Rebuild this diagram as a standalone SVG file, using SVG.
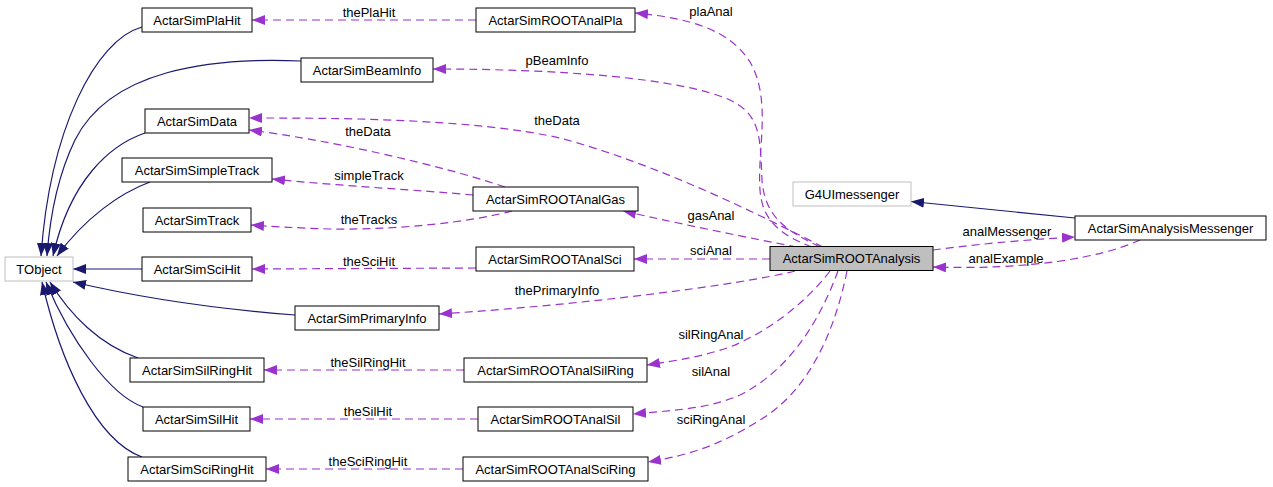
<svg xmlns="http://www.w3.org/2000/svg" width="1273" height="487" viewBox="0 0 1273 487">
<style>
.box{fill:#ffffff;stroke:#000000;stroke-width:1}
.grey{fill:#ffffff;stroke:#bfbfbf;stroke-width:1}
.hl{fill:#bfbfbf;stroke:#000000;stroke-width:1}
.t{font-family:"Liberation Sans",Helvetica,Arial,sans-serif;font-size:13px;fill:#000000;text-anchor:middle}
.inh{fill:none;stroke:#191970;stroke-width:1.2;marker-end:url(#an)}
.use{fill:none;stroke:#9a32cd;stroke-width:1.2;stroke-dasharray:8,5;marker-end:url(#ap)}
</style>
<defs>
<marker id="an" viewBox="0 0 13 10" refX="13" refY="5" markerWidth="13" markerHeight="10" orient="auto" markerUnits="userSpaceOnUse"><path d="M0,0 L13,5 L0,10 z" fill="#191970"/></marker>
<marker id="ap" viewBox="0 0 13 10" refX="13" refY="5" markerWidth="13" markerHeight="10" orient="auto" markerUnits="userSpaceOnUse"><path d="M0,0 L13,5 L0,10 z" fill="#9a32cd"/></marker>
</defs>
<rect width="1273" height="487" fill="#ffffff"/>
<g id="connectors">
<path class="inh" d="M142,27 C95,40 50,130 41,256"/>
<path class="inh" d="M301,61 C210,57 110,70 75,140 C58,175 50,215 47,256"/>
<path class="inh" d="M145,133 C110,145 70,180 53,256"/>
<path class="inh" d="M150,182 C120,193 85,218 57,256"/>
<path class="inh" d="M142,269 L73,269"/>
<path class="inh" d="M295,315 C230,310 150,300 73,282"/>
<path class="inh" d="M138,358 C100,345 70,315 50,282"/>
<path class="inh" d="M143,407 C110,395 70,340 46,282"/>
<path class="inh" d="M142,457 C95,440 60,360 42,282"/>
<path class="inh" d="M1075,218 L911,201.5"/>
<path class="use" d="M476,20 L252,20"/>
<path class="use" d="M812,247 C780,235 762,220 760,190 C757,150 772,100 750,62 C730,30 690,18 635,13"/>
<path class="use" d="M820,247 C790,232 765,220 762,180 C760,140 762,115 730,100 C680,78 560,69 433,69"/>
<path class="use" d="M823,247 C760,215 660,165 560,138 C470,118 330,118 249,118"/>
<path class="use" d="M505,187 C440,165 330,140 249,130"/>
<path class="use" d="M473,195 C420,190 340,186 272,179"/>
<path class="use" d="M512,211 C470,222 400,230 330,229 C300,228 280,227 251,225"/>
<path class="use" d="M797,247 C750,238 690,226 623,211"/>
<path class="use" d="M770,259 L634,259"/>
<path class="use" d="M476,268 L252,269"/>
<path class="use" d="M795,271 C740,285 580,305 439,314"/>
<path class="use" d="M933,250 C970,245 1020,240 1075,237"/>
<path class="use" d="M1140,240 C1100,258 1030,270 933,267"/>
<path class="use" d="M830,271 C800,310 760,335 730,347 C700,357 680,360 647,365"/>
<path class="use" d="M838,271 C820,320 790,370 740,395 C710,408 680,410 633,414"/>
<path class="use" d="M847,271 C835,330 810,390 760,420 C720,445 690,455 648,462"/>
<path class="use" d="M464,370 L264,370"/>
<path class="use" d="M478,419 L250,419"/>
<path class="use" d="M463,469 L266,469"/>
<text class="t" x="369" y="17">thePlaHit</text>
<text class="t" x="711" y="16">plaAnal</text>
<text class="t" x="557" y="65">pBeamInfo</text>
<text class="t" x="557" y="125">theData</text>
<text class="t" x="368" y="136">theData</text>
<text class="t" x="369" y="180">simpleTrack</text>
<text class="t" x="369" y="224">theTracks</text>
<text class="t" x="711" y="220">gasAnal</text>
<text class="t" x="711" y="255">sciAnal</text>
<text class="t" x="369" y="266">theSciHit</text>
<text class="t" x="557" y="295">thePrimaryInfo</text>
<text class="t" x="1007" y="236">analMessenger</text>
<text class="t" x="1006" y="263">analExample</text>
<text class="t" x="711" y="339">silRingAnal</text>
<text class="t" x="711" y="376">silAnal</text>
<text class="t" x="711" y="424">sciRingAnal</text>
<text class="t" x="368" y="367">theSilRingHit</text>
<text class="t" x="368" y="416">theSilHit</text>
<text class="t" x="368" y="466">theSciRingHit</text>
</g>
<g id="ActarSimPlaHit"><rect class="box" x="142" y="8" width="110" height="24"/><text class="t" x="197" y="24.5">ActarSimPlaHit</text></g>
<g id="ActarSimBeamInfo"><rect class="box" x="301" y="58" width="132" height="24"/><text class="t" x="367" y="74.5">ActarSimBeamInfo</text></g>
<g id="ActarSimData"><rect class="box" x="145" y="109" width="104" height="24"/><text class="t" x="197" y="125.5">ActarSimData</text></g>
<g id="ActarSimSimpleTrack"><rect class="box" x="122" y="158" width="150" height="24"/><text class="t" x="197" y="174.5">ActarSimSimpleTrack</text></g>
<g id="ActarSimTrack"><rect class="box" x="143" y="208" width="108" height="24"/><text class="t" x="197" y="224.5">ActarSimTrack</text></g>
<g id="TObject"><rect class="grey" x="5" y="257" width="68" height="24"/><text class="t" x="39" y="273.5">TObject</text></g>
<g id="ActarSimSciHit"><rect class="box" x="142" y="257" width="110" height="24"/><text class="t" x="197" y="273.5">ActarSimSciHit</text></g>
<g id="ActarSimPrimaryInfo"><rect class="box" x="295" y="306" width="144" height="24"/><text class="t" x="367" y="322.5">ActarSimPrimaryInfo</text></g>
<g id="ActarSimSilRingHit"><rect class="box" x="130" y="358" width="134" height="24"/><text class="t" x="197" y="374.5">ActarSimSilRingHit</text></g>
<g id="ActarSimSilHit"><rect class="box" x="143" y="407" width="107" height="24"/><text class="t" x="196.5" y="423.5">ActarSimSilHit</text></g>
<g id="ActarSimSciRingHit"><rect class="box" x="128" y="457" width="138" height="24"/><text class="t" x="197" y="473.5">ActarSimSciRingHit</text></g>
<g id="ActarSimROOTAnalPla"><rect class="box" x="476" y="8" width="159" height="24"/><text class="t" x="555.5" y="24.5">ActarSimROOTAnalPla</text></g>
<g id="ActarSimROOTAnalGas"><rect class="box" x="473" y="187" width="165" height="24"/><text class="t" x="555.5" y="203.5">ActarSimROOTAnalGas</text></g>
<g id="ActarSimROOTAnalSci"><rect class="box" x="476" y="247" width="158" height="24"/><text class="t" x="555" y="263.5">ActarSimROOTAnalSci</text></g>
<g id="ActarSimROOTAnalSilRing"><rect class="box" x="464" y="358" width="183" height="24"/><text class="t" x="555.5" y="374.5">ActarSimROOTAnalSilRing</text></g>
<g id="ActarSimROOTAnalSil"><rect class="box" x="478" y="407" width="155" height="24"/><text class="t" x="555.5" y="423.5">ActarSimROOTAnalSil</text></g>
<g id="ActarSimROOTAnalSciRing"><rect class="box" x="463" y="457" width="185" height="24"/><text class="t" x="555.5" y="473.5">ActarSimROOTAnalSciRing</text></g>
<g id="ActarSimROOTAnalysis"><rect class="hl" x="770" y="246.5" width="163" height="24"/><text class="t" x="851.5" y="263">ActarSimROOTAnalysis</text></g>
<g id="G4UImessenger"><rect class="grey" x="793" y="182" width="118" height="24"/><text class="t" x="852" y="198.5">G4UImessenger</text></g>
<g id="ActarSimAnalysisMessenger"><rect class="box" x="1075" y="216" width="191" height="24"/><text class="t" x="1170.5" y="232.5">ActarSimAnalysisMessenger</text></g>
</svg>
